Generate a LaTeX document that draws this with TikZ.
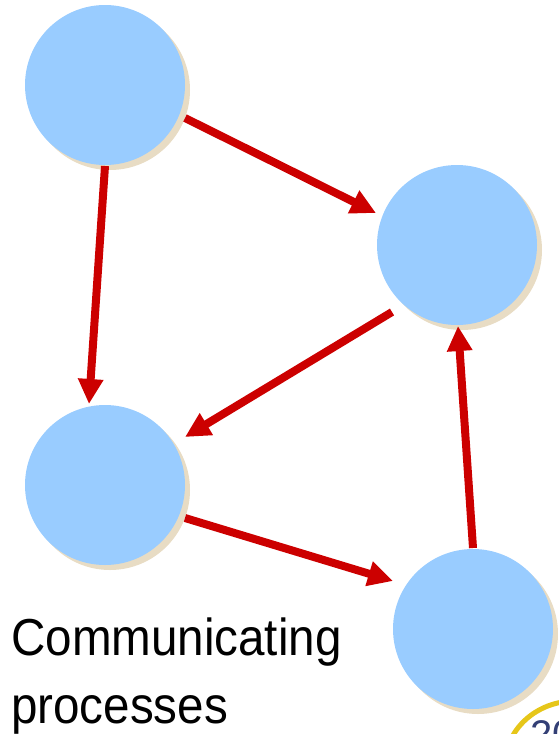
\documentclass[tikz,border=0pt]{standalone}
\usepackage{fontspec}
\setmainfont{Liberation Sans}
\usetikzlibrary{arrows.meta,calc}
\definecolor{procfill}{HTML}{99CCFF}
\definecolor{procshadow}{HTML}{E8DCC4}
\definecolor{msgred}{HTML}{CC0000}
\definecolor{logoyellow}{HTML}{E6C619}
\definecolor{logonavy}{HTML}{333F75}
\tikzset{
  process/.style={circle, minimum size=160pt, inner sep=0pt, fill=procfill},
  procshade/.style={circle, minimum size=160pt, inner sep=0pt, fill=procshadow},
  msg/.style={draw=msgred, line width=8pt, -{Triangle[length=25pt,width=24pt]}},
  caption/.style={anchor=base west, inner sep=0pt, font=\fontsize{52}{60}\selectfont},
}
\begin{document}
\begin{tikzpicture}[x=1pt,y=-1pt]
  \useasboundingbox (0,0) rectangle (559,734);
  \begin{scope}
    \clip (0,0) rectangle (559,734);
    % drop shadows behind the processes
    \foreach \px/\py in {105/85, 457/245, 105/485, 473/629}
      \node[procshade] at (\px+5,\py+5) {};
    % processes
    \node[process] (p1) at (105,85)  {};
    \node[process] (p2) at (457,245) {};
    \node[process] (p3) at (105,485) {};
    \node[process] (p4) at (473,629) {};
    % messages between processes
    \draw[msg] ($(p1)+(80,33)$)  -- ($(p2)+(-81,-32)$);
    \draw[msg] ($(p1)+(0,81)$)   -- ($(p3)+(-16,-81)$);
    \draw[msg] ($(p2)+(-65,67)$) -- ($(p3)+(80,-48)$);
    \draw[msg] ($(p3)+(80,33)$)  -- ($(p4)+(-80,-48)$);
    \draw[msg] ($(p4)+(0,-81)$)  -- ($(p2)+(1,81)$);
    % caption
    \node[caption] (cap1) at (11,655) {\scalebox{0.915}[1]{Communicating}};
    \node[caption] (cap2) at (11,723) {\scalebox{0.915}[1]{processes}};
    % corner logo
    \draw[logoyellow, line width=5pt] (575,765) ellipse [x radius=70, y radius=64];
    \node[anchor=base west, inner sep=0pt, text=logonavy, font=\fontsize{40}{40}\selectfont] (logo) at (530,748) {20};
  \end{scope}
\end{tikzpicture}
\end{document}
